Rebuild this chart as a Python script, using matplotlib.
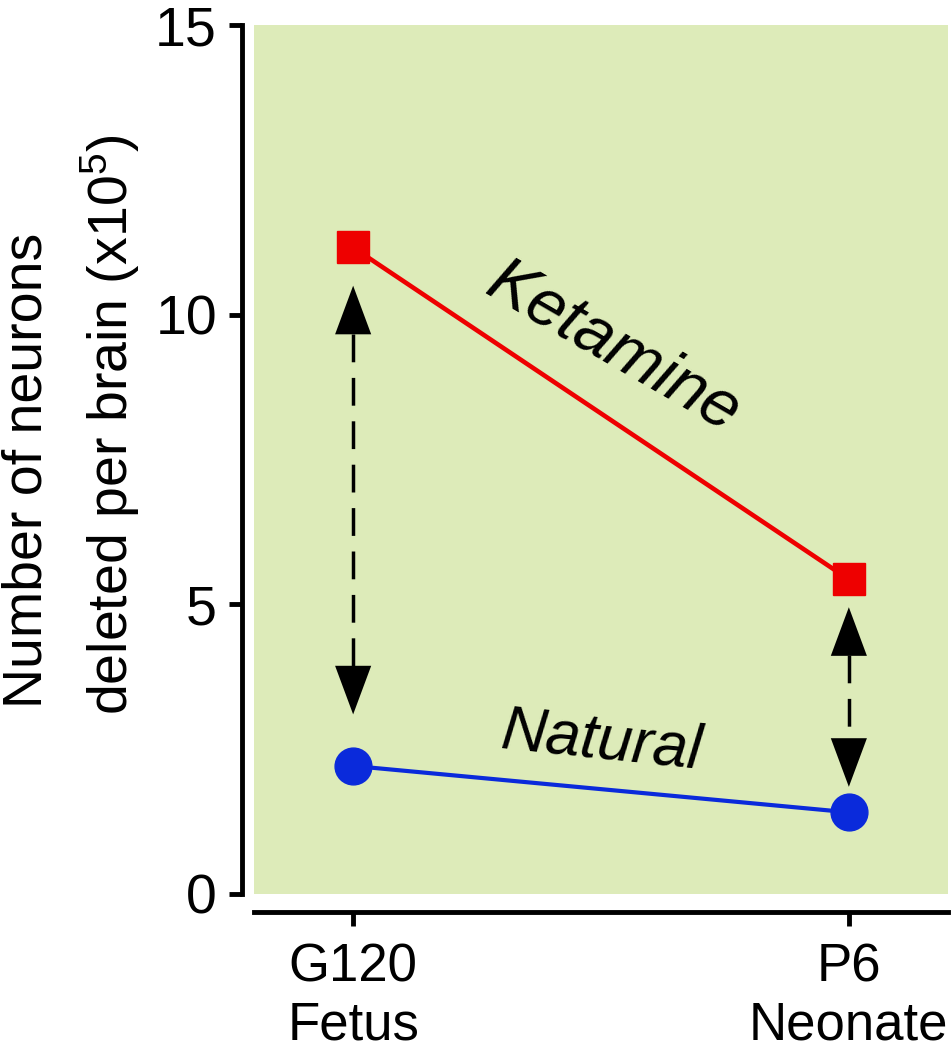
import matplotlib
matplotlib.use("Agg")
import matplotlib.pyplot as plt

plt.rcParams.update({"font.family": "Liberation Sans", "mathtext.default": "regular"})

# data
stages = ["G120\nFetus", "P6\nNeonate"]
x_pos = [0, 1]
ketamine = [11.16, 5.43]
natural = [2.21, 1.41]
# dashed double arrows (tip positions, y units of 1e5 neurons)
arrow_top = [10.5, 4.95]
arrow_bottom = [3.1, 1.85]
head_len = 0.83

RED = "#ee0000"
BLUE = "#0a2adb"
GREEN = "#ddebb9"

fig = plt.figure(figsize=(9.51, 10.5), dpi=100)
ax = fig.add_axes([254 / 951, 156 / 1050, 694 / 951, 869 / 1050])
ax.set_facecolor(GREEN)
ax.set_xlim(-0.2, 1.2)
ax.set_ylim(0, 15)

ax.plot(x_pos, ketamine, color=RED, lw=3.3, marker="s", ms=23, mec=RED, mfc=RED,
        solid_capstyle="butt", zorder=3)
ax.plot(x_pos, natural, color=BLUE, lw=3, marker="o", ms=26.5, mec=BLUE, mfc=BLUE,
        zorder=3)

for x, top, bot in zip(x_pos, arrow_top, arrow_bottom):
    ax.plot([x, x], [top - head_len, bot + head_len], color="k", lw=2.5,
            linestyle=(0, (8, 4.5)), zorder=2)
    for tip, base in ((top, top - head_len), (bot, bot + head_len)):
        ax.annotate("", xy=(x, tip), xytext=(x, base),
                    arrowprops=dict(arrowstyle="-|>,head_length=35,head_width=13",
                                    mutation_scale=1, color="k", lw=0,
                                    shrinkA=0, shrinkB=0), zorder=2)

ax.text(0.525, 9.42, "Ketamine", fontsize=48, style="italic", rotation=-30,
        ha="center", va="center", rotation_mode="anchor")
ax.text(0.5, 2.63, "Natural", fontsize=45, style="italic", rotation=-6,
        ha="center", va="center", rotation_mode="anchor")

for s in ("top", "right"):
    ax.spines[s].set_visible(False)
ax.spines["left"].set_position(("outward", 8.6))
ax.spines["bottom"].set_position(("outward", 13))
ax.spines["left"].set_linewidth(3.5)
ax.spines["bottom"].set_linewidth(3.5)

ax.set_yticks([0, 5, 10, 15])
ax.set_xticks(x_pos)
ax.set_xticklabels(stages)
ax.tick_params(axis="y", length=9.4, width=3.5, pad=8.6, labelsize=40)
ax.tick_params(axis="x", length=10, width=3.5, pad=12, labelsize=38)

fig.text(28 / 951, 1 - 470 / 1050, "Number of neurons", rotation=90,
         fontsize=40, ha="center", va="center")
fig.text(110 / 951, 1 - 425 / 1050, "deleted per brain (x10$^5$)", rotation=90,
         fontsize=40, ha="center", va="center")

fig.savefig("out.png", dpi=100)
